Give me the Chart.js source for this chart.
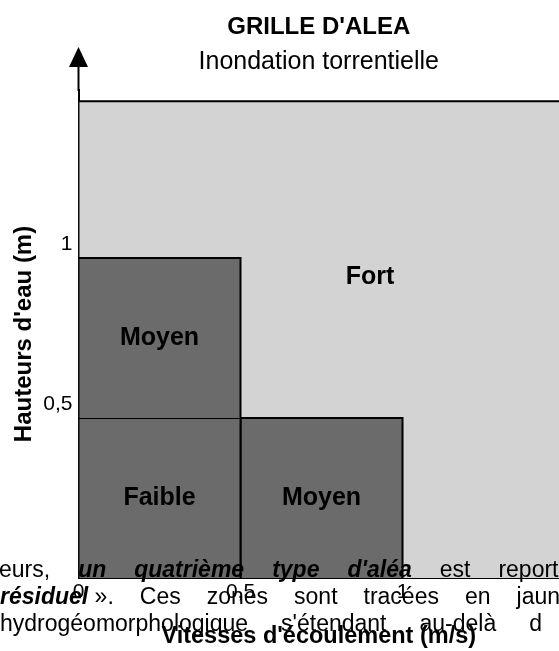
<!DOCTYPE html>
<html><head><meta charset="utf-8">
<script src="https://cdn.jsdelivr.net/npm/chart.js@4.4.1/dist/chart.umd.min.js"></script>
<style>html,body{margin:0;padding:0;background:#fff;overflow:hidden}#wrap{width:559px;height:651px;position:relative}</style>
</head><body><div id="wrap"><canvas id="c"></canvas></div>
<script>
// ---- data ----
const zoneNames = ['Fort', 'Moyen', 'Faible', 'Moyen'];
const zoneXFrom = [0, 0, 0, 0.5];
const zoneXTo   = [1.6, 0.5, 0.5, 1];
const zoneYFrom = [0, 0.5, 0, 0];
const zoneYTo   = [1.49, 1, 0.5, 0.5];
const zoneLabelX = [0.9, 0.25, 0.25, 0.75];
const zoneLabelY = [0.94, 0.75, 0.25, 0.25];
const xTicks = [0, 0.5, 1];
const xTickLabels = ['0', '0,5', '1'];
const yTicks = [0.5, 1];
const yTickLabels = ['0,5', '1'];
const xMax = 1.483;
const yMax = 1.525;
const titleText = "GRILLE D'ALEA";
const subtitleText = 'Inondation torrentielle';
const xTitle = "Vitesses d'écoulement (m/s)";
const yTitle = "Hauteurs d'eau (m)";
// document text printed over the figure (words; 'bi' = bold italic, 'r' = regular)
const docLine1 = [[['eurs,', 'r']], [['un', 'bi']], [['quatrième', 'bi']], [['type', 'bi']], [["d'aléa", 'bi']], [['est', 'r']], [['report', 'r']]];
const docLine2 = [[['résiduel', 'bi'], ['\u00a0».', 'r']], [['Ces', 'r']], [['zones', 'r']], [['sont', 'r']], [['tracées', 'r']], [['en', 'r']], [['jaun', 'r']]];
const docLine3 = [[['hydrogéomorphologique', 'r']], [["s'étendant", 'r']], [['au-delà', 'r']], [['d', 'r']]];

// ---- styles ----
const FONT = "'Liberation Sans', Arial, Helvetica, sans-serif";
const zoneColor = { Fort: '#d3d3d3', Moyen: '#6b6b6b', Faible: '#6b6b6b' };
const docStyle = { startX: [-1, 0, 0], baseline: [577, 604, 631], gap: [28, 26, 33], size: 23 };

const datasets = zoneNames.map((name, i) => ({
  label: name,
  data: [
    { x: zoneXFrom[i], y: zoneYFrom[i] },
    { x: zoneXFrom[i], y: zoneYTo[i] },
    { x: zoneXTo[i], y: zoneYTo[i] },
    { x: zoneXTo[i], y: zoneYFrom[i] }
  ],
  fill: { value: zoneYFrom[i] },
  backgroundColor: zoneColor[name],
  borderColor: '#000',
  borderWidth: 2,
  pointRadius: 0,
  tension: 0,
  order: name === 'Fort' ? 2 : 1
}));

const decor = {
  id: 'decor',
  afterDatasetsDraw(chart) {
    const { ctx, scales: { x, y } } = chart;
    ctx.save();
    ctx.fillStyle = '#000';
    ctx.font = 'bold 25px ' + FONT;
    ctx.textAlign = 'center';
    ctx.textBaseline = 'middle';
    zoneNames.forEach((n, i) => {
      ctx.fillText(n, x.getPixelForValue(zoneLabelX[i]), y.getPixelForValue(zoneLabelY[i]));
    });
    ctx.restore();
  },
  afterDraw(chart) {
    const { ctx, chartArea, scales: { x } } = chart;
    const ax = x.getPixelForValue(0);
    ctx.save();
    // y axis arrow
    ctx.strokeStyle = '#000';
    ctx.lineWidth = 2;
    ctx.beginPath();
    ctx.moveTo(ax, chartArea.top + 1);
    ctx.lineTo(ax, 64);
    ctx.stroke();
    ctx.fillStyle = '#000';
    ctx.beginPath();
    ctx.moveTo(ax, 47);
    ctx.lineTo(ax - 9.5, 67);
    ctx.lineTo(ax + 9.5, 67);
    ctx.closePath();
    ctx.fill();
    // overlapping document text
    ctx.textAlign = 'left';
    ctx.textBaseline = 'alphabetic';
    const fonts = { r: docStyle.size + 'px ' + FONT, bi: 'italic bold ' + docStyle.size + 'px ' + FONT };
    [docLine1, docLine2, docLine3].forEach((line, li) => {
      let cx = docStyle.startX[li];
      line.forEach(word => {
        word.forEach(([t, s]) => {
          ctx.font = fonts[s];
          ctx.fillText(t, cx, docStyle.baseline[li]);
          cx += ctx.measureText(t).width;
        });
        cx += docStyle.gap[li];
      });
    });
    ctx.restore();
  }
};

new Chart(document.getElementById('c'), {
  type: 'line',
  data: { datasets },
  options: {
    responsive: true,
    maintainAspectRatio: false,
    animation: false,
    layout: { padding: 0 },
    plugins: {
      legend: { display: false },
      tooltip: { enabled: false },
      title: {
        display: true, text: titleText, fullSize: false, color: '#000',
        font: { family: FONT, size: 24, weight: 'bold', lineHeight: 1.2 },
        padding: { top: 13, bottom: 4 }
      },
      subtitle: {
        display: true, text: subtitleText, fullSize: false, color: '#000',
        font: { family: FONT, size: 25, weight: 'normal', lineHeight: 1.2 },
        padding: { top: 1, bottom: 13.2 }
      }
    },
    scales: {
      x: {
        type: 'linear', min: 0, max: xMax,
        afterBuildTicks: s => { s.ticks = xTicks.map(v => ({ value: v })); },
        afterFit: s => { s.height = 73; },
        ticks: {
          autoSkip: false, maxRotation: 0, padding: 2, color: '#000',
          font: { family: FONT, size: 21 },
          callback: (v, i) => xTickLabels[i]
        },
        grid: { display: false, drawTicks: false },
        border: { display: true, color: '#000', width: 2 },
        title: {
          display: true, text: xTitle, color: '#000',
          font: { family: FONT, size: 23.5, weight: 'bold', lineHeight: 1.2 },
          padding: { top: 0, bottom: 0 }
        }
      },
      y: {
        type: 'linear', min: 0, max: yMax,
        afterBuildTicks: s => { s.ticks = yTicks.map(v => ({ value: v })); },
        afterFit: s => { s.width = 78.5; },
        ticks: {
          autoSkip: false, padding: 6, color: '#000', labelOffset: -14,
          font: { family: FONT, size: 21 },
          callback: (v, i) => yTickLabels[i]
        },
        grid: { display: false, drawTicks: false },
        border: { display: true, color: '#000', width: 2 },
        title: {
          display: true, text: yTitle, color: '#000',
          font: { family: FONT, size: 24, weight: 'bold', lineHeight: 1.2 },
          padding: { top: 9.5, bottom: 0 }
        }
      }
    }
  },
  plugins: [decor]
});
</script>
</body></html>
